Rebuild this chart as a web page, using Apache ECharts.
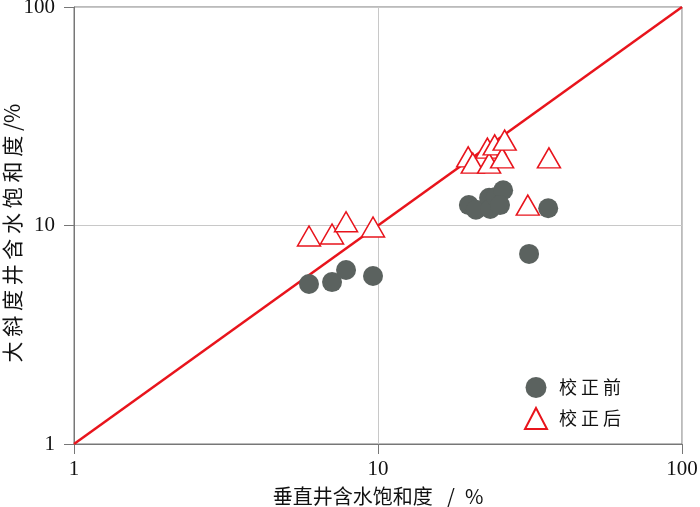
<!DOCTYPE html>
<html>
<head>
<meta charset="utf-8">
<script src="https://cdn.jsdelivr.net/npm/echarts@6/dist/echarts.min.js"></script>
<style>
  html, body { margin: 0; padding: 0; background: #fff; }
  #main { width: 700px; height: 507px; }
</style>
</head>
<body>
<div id="main"></div>
<script>
// 垂直井含水饱和度 (x) vs 大斜度井含水饱和度 (y), %
const beforeX = [5.93, 7.06, 7.85, 9.63, 19.9, 21.0, 23.2, 23.4, 24.4, 25.8, 25.2, 31.4, 36.3];
const beforeY = [5.40, 5.51, 6.26, 5.87, 12.4, 11.8, 13.4, 11.9, 13.5, 14.5, 12.4, 7.41, 12.0];
const afterX = [5.93, 7.06, 7.85, 9.63, 19.8, 20.5, 22.9, 23.2, 24.2, 25.6, 26.1, 36.5, 31.1];
const afterY = [8.95, 9.14, 10.4, 9.84, 20.6, 19.3, 22.6, 19.3, 23.4, 20.4, 24.6, 20.4, 12.4];
const refLine = [1, 100];

const numFont = 'Liberation Serif';
const cjkFont = 'Noto Sans CJK SC';

const chart = echarts.init(document.getElementById('main'));

const zip = (xs, ys) => xs.map((x, i) => [x, ys[i]]);

const option = {
  backgroundColor: '#fff',
  animation: false,
  grid: {
    left: 74,
    right: 18,
    top: 7,
    bottom: 63,
    containLabel: false,
    outerBoundsMode: 'none',
    show: true,
    borderColor: '#777',
    borderWidth: 1,
  },
  xAxis: {
    type: 'log',
    logBase: 10,
    min: 1,
    max: 100,
    name: '垂直井含水饱和度 \u2002/\u2002%',
    nameLocation: 'middle',
    nameGap: 42,
    nameMoveOverlap: false,
    nameTextStyle: { fontFamily: cjkFont, fontSize: 20, color: '#111' },
    axisLine: { lineStyle: { color: '#777', width: 1 } },
    axisTick: { show: true, inside: false, length: 10, lineStyle: { color: '#777' } },
    axisLabel: { fontFamily: numFont, fontSize: 21, color: '#111', margin: 15 },
    splitLine: { show: true, lineStyle: { color: '#c8c8c8', width: 1 } },
    minorTick: { show: false },
  },
  yAxis: {
    type: 'log',
    logBase: 10,
    min: 1,
    max: 100,
    name: '大 斜 度 井 含 水 饱 和 度 /%',
    nameLocation: 'middle',
    nameGap: 51,
    nameMoveOverlap: false,
    nameRotate: 90,
    nameTextStyle: { fontFamily: cjkFont, fontSize: 21, color: '#111', padding: [0, 15, 0, 0] },
    axisLine: { lineStyle: { color: '#777', width: 1 } },
    axisTick: { show: true, inside: false, length: 10, lineStyle: { color: '#777' } },
    axisLabel: { fontFamily: numFont, fontSize: 21, color: '#111', margin: 19 },
    splitLine: { show: true, lineStyle: { color: '#c8c8c8', width: 1 } },
    minorTick: { show: false },
  },
  legend: {
    orient: 'vertical',
    left: 519,
    top: 372,
    itemWidth: 22,
    itemHeight: 21,
    itemGap: 9,
    textStyle: { fontFamily: cjkFont, fontSize: 18, color: '#111', padding: [0, 0, 0, 7] },
    data: [
      { name: '校正前', icon: 'circle' },
      { name: '校正后', icon: 'triangle' },
    ],
    formatter: (name) => name.split('').join(' '),
  },
  series: [
    {
      name: '1:1',
      type: 'line',
      data: zip(refLine, refLine),
      symbol: 'none',
      lineStyle: { color: '#e8141c', width: 2.5 },
      z: 1,
    },
    {
      name: '校正前',
      type: 'scatter',
      data: zip(beforeX, beforeY),
      symbol: 'circle',
      symbolSize: 20,
      itemStyle: { color: '#5b625f', opacity: 1 },
      z: 3,
    },
    {
      name: '校正后',
      type: 'scatter',
      data: zip(afterX, afterY),
      symbol: 'triangle',
      symbolSize: [23, 20],
      itemStyle: { color: '#fff', borderColor: '#e8141c', borderWidth: 1.5, opacity: 1 },
      z: 4,
    },
  ],
};

chart.setOption(option);
</script>
</body>
</html>
